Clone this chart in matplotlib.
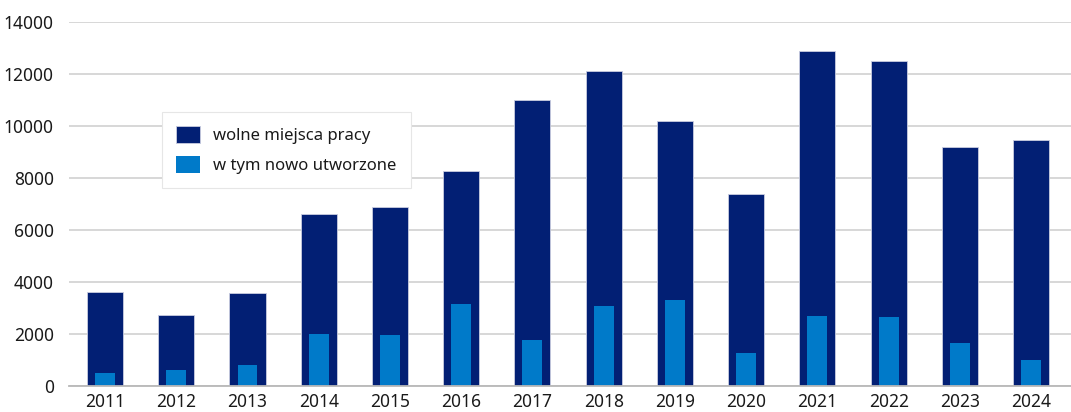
import matplotlib
matplotlib.use("Agg")
import matplotlib.pyplot as plt
import numpy as np

years = ["2011", "2012", "2013", "2014", "2015", "2016", "2017",
         "2018", "2019", "2020", "2021", "2022", "2023", "2024"]
wolne = [3620, 2720, 3580, 6630, 6890, 8270, 11010,
         12130, 10180, 7400, 12880, 12510, 9210, 9450]
nowe = [500, 600, 820, 2010, 1980, 3140, 1760,
        3090, 3300, 1290, 2710, 2650, 1670, 1000]

plt.rcParams['font.family'] = ['Noto Sans', 'DejaVu Sans']

DARK = "#021f74"
LIGHT = "#007ac9"

fig = plt.figure(figsize=(10.71, 4.12), dpi=100)
ax = fig.add_axes([0.0644, 0.063, 0.9356, 0.8836])

x = np.arange(len(years))
ax.bar(x, wolne, width=0.506, color=DARK, edgecolor="#c9cde0", linewidth=0.6,
       label="wolne miejsca pracy", zorder=3)
ax.bar(x, nowe, width=0.28, color=LIGHT, linewidth=0,
       label="w tym nowo utworzone", zorder=4)

ax.set_xlim(-0.506, 13.56)
ax.set_ylim(0, 14000)
ax.set_yticks(np.arange(0, 14001, 2000))
ax.set_xticks(x)
ax.set_xticklabels(years)
ax.yaxis.grid(True, color="#d4d4d4", linewidth=1.3, zorder=0)
ax.set_axisbelow(True)
for s in ["top", "right", "left"]:
    ax.spines[s].set_visible(False)
ax.spines["bottom"].set_color("#b8b8b8")
ax.spines["bottom"].set_linewidth(1.3)
ax.spines["bottom"].set_zorder(5)
ax.tick_params(axis="both", length=0, labelsize=12.5, colors="#1a1a1a")
ax.tick_params(axis="y", pad=11)
ax.tick_params(axis="x", pad=5)

leg = ax.legend(loc="upper left", bbox_to_anchor=(0.093, 0.753), borderaxespad=0,
                fontsize=12, frameon=True, fancybox=False, framealpha=1,
                edgecolor="#e6e6e6", handlelength=1.45, handleheight=1.2,
                labelspacing=0.7, borderpad=0.85, handletextpad=0.75)
leg.get_frame().set_linewidth(0.8)
for t in leg.get_texts():
    t.set_color("#1a1a1a")

fig.savefig("out.png", dpi=100)
